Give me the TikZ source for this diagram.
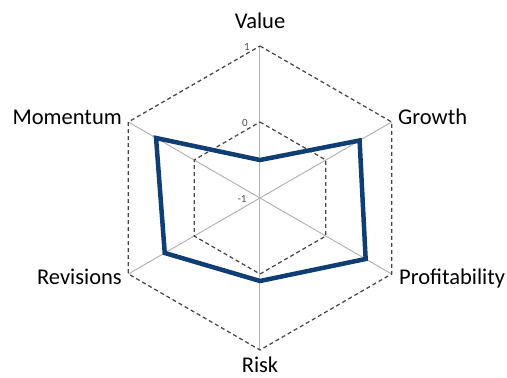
\documentclass[tikz,border=0pt]{standalone}
\usepackage{fontspec}
\setmainfont{Carlito}
\definecolor{axisgray}{HTML}{B4B4B4}
\definecolor{gridgray}{HTML}{474747}
\definecolor{tickgray}{HTML}{505050}
\definecolor{seriesblue}{HTML}{0E3E74}
\begin{document}
\begin{tikzpicture}[x=1pt,y=1pt,inner sep=0pt,
  axis/.style={draw=axisgray,line width=1pt},
  grid/.style={draw=gridgray,line width=1.25pt,dash pattern=on 4pt off 3pt},
  series/.style={draw=seriesblue,line width=4.5pt,line join=miter},
  lab/.style={font=\fontsize{22.5}{26}\selectfont},
  tick/.style={font=\fontsize{11}{13}\selectfont,text=tickgray}]

\useasboundingbox (-260,-180) rectangle (247,198);

\coordinate (c) at (0,0);

% outer ring (1) and inner ring (0)
\coordinate (value) at (90:152);
\coordinate (growth) at (30:152);
\coordinate (profit) at (-30:152);
\coordinate (risk) at (-90:152);
\coordinate (revis) at (210:152);
\coordinate (moment) at (150:152);

\coordinate (value0) at (90:76);
\coordinate (growth0) at (30:76);
\coordinate (profit0) at (-30:76);
\coordinate (risk0) at (-90:76);
\coordinate (revis0) at (210:76);
\coordinate (moment0) at (150:76);

\draw[axis] (value) -- (risk);
\draw[axis] (growth) -- (revis);
\draw[axis] (profit) -- (moment);

\draw[grid] (value) -- (growth) -- (profit) -- (risk) -- (revis) -- (moment) -- cycle;
\draw[grid] (value0) -- (growth0) -- (profit0) -- (risk0) -- (revis0) -- (moment0) -- cycle;

% scores
\coordinate (sv) at (90:38);
\coordinate (sg) at (30:115);
\coordinate (sp) at (-30:122);
\coordinate (sr) at (-90:83);
\coordinate (srv) at (210:110);
\coordinate (sm) at (150:120);

\draw[series] (sv) -- (sg) -- (sp) -- (sr) -- (srv) -- (sm) -- cycle;

\node[tick] (t1) at (-13,151) {1};
\node[tick] (t0) at (-15,75) {0};
\node[tick] (tm1) at (-18,-1) {-1};

\node[lab,anchor=base] (lvalue) at (0,169) {Value};
\node[lab,anchor=base west] (lgrowth) at (138,74) {Growth};
\node[lab,anchor=base west] (lprofit) at (139,-86) {Profitability};
\node[lab,anchor=base] (lrisk) at (0,-174) {Risk};
\node[lab,anchor=base east] (lrevis) at (-138,-86) {Revisions};
\node[lab,anchor=base east] (lmoment) at (-138,73) {Momentum};

\end{tikzpicture}
\end{document}
